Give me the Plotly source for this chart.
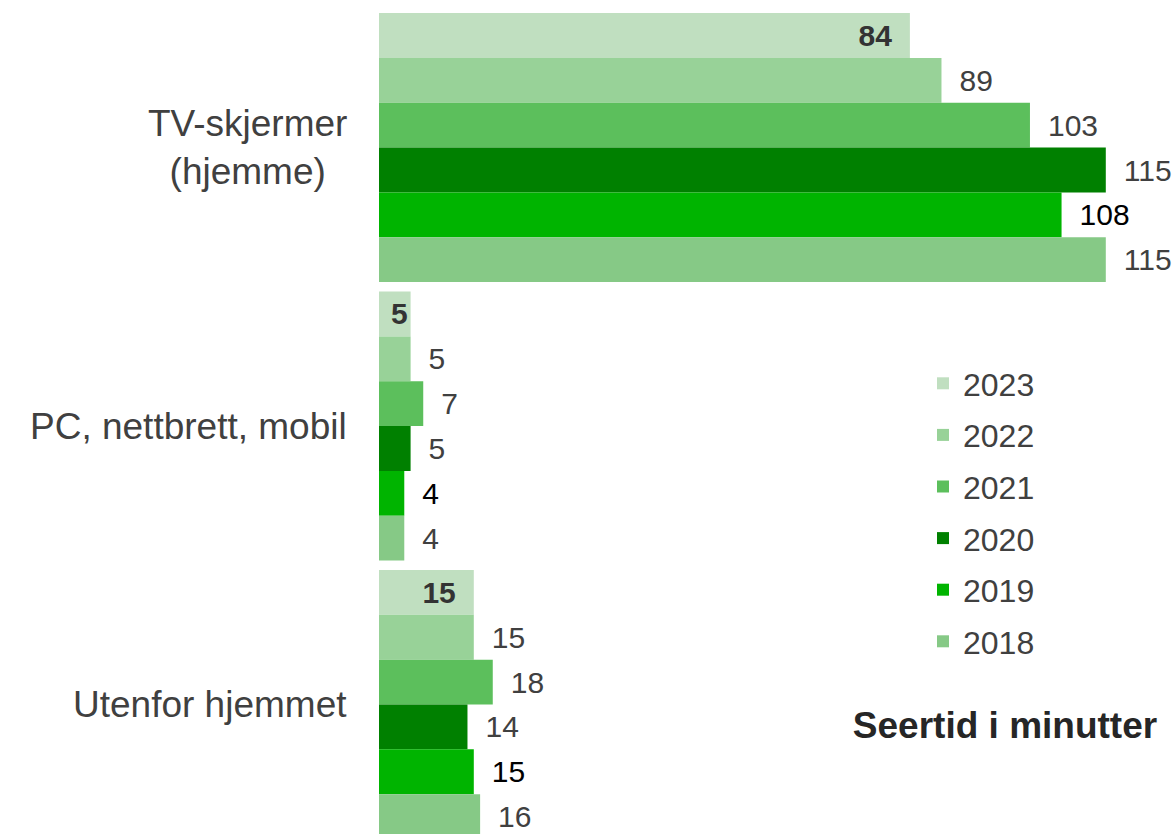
import plotly.graph_objects as go

categories = ["TV-skjermer<br>(hjemme)", "PC, nettbrett, mobil", "Utenfor hjemmet"]
years = ["2023", "2022", "2021", "2020", "2019", "2018"]
values_2023 = [84, 5, 15]
values_2022 = [89, 5, 15]
values_2021 = [103, 7, 18]
values_2020 = [115, 5, 14]
values_2019 = [108, 4, 15]
values_2018 = [115, 4, 16]
series = [values_2023, values_2022, values_2021, values_2020, values_2019, values_2018]
colors = ["#C0DFC0", "#98D298", "#5CBF5C", "#008000", "#00B400", "#86C986"]
label_colors = ["#333333", "#404040", "#404040", "#404040", "#000000", "#404040"]

FONT = "Liberation Sans, Arial, sans-serif"
W, H = 1173, 834
L = 379
plot_w = W - L
px_per_unit = 6.32

fig = go.Figure()
ypos = list(range(len(categories)))
for i, (yr, vals) in enumerate(zip(years, series)):
    if i == 0:
        texts = [f"{v}\u2002" if v * px_per_unit > 50 else f"{v}" for v in vals]
        fig.add_trace(go.Bar(
            y=ypos, x=vals, orientation="h", name=yr,
            marker=dict(color=colors[i], line=dict(width=0)),
            text=texts, textposition="inside", insidetextanchor="end",
            constraintext="none",
            textfont=dict(family=FONT, size=30, color=label_colors[i], weight="bold"),
            legendgroup=yr, hoverinfo="skip",
        ))
    else:
        texts = [f"\u2002{v}" for v in vals]
        fig.add_trace(go.Bar(
            y=ypos, x=vals, orientation="h", name=yr,
            marker=dict(color=colors[i], line=dict(width=0)),
            text=texts, textposition="outside", constraintext="none",
            textfont=dict(family=FONT, size=30, color=label_colors[i]),
            cliponaxis=False, legendgroup=yr, hoverinfo="skip",
        ))

for j, cat in enumerate(categories):
    fig.add_annotation(
        x=(349 - L) / plot_w, xref="paper", xanchor="right",
        y=j, yref="y", yanchor="middle",
        text=cat, align="center", showarrow=False,
        font=dict(family=FONT, size=37, color="#404040"),
    )

fig.update_layout(
    width=W, height=H,
    margin=dict(l=L, r=0, t=0, b=0, autoexpand=False),
    paper_bgcolor="white", plot_bgcolor="white",
    barmode="group", bargap=0.034, bargroupgap=0,
    font=dict(family=FONT, color="#404040"),
    xaxis=dict(range=[0, plot_w / px_per_unit], visible=False, showgrid=False, zeroline=False),
    yaxis=dict(range=[2.465, -0.53], showticklabels=False, showgrid=False,
               zeroline=False, showline=False, ticks=""),
    legend=dict(
        x=(923 - L) / plot_w, xref="paper", xanchor="left",
        y=1 - 356 / H, yref="paper", yanchor="top",
        font=dict(family=FONT, size=32, color="#404040"),
        tracegroupgap=7, bgcolor="rgba(0,0,0,0)",
        traceorder="grouped",
    ),
    title=dict(
        text="<b>Seertid i minutter</b>",
        x=1005 / W, xref="container", xanchor="center",
        y=1 - 725 / H, yref="container", yanchor="middle",
        font=dict(family=FONT, size=37, color="#262626"),
    ),
    showlegend=True,
)

fig.write_html(
    "out.html",
    config={"displayModeBar": False},
    post_script="document.body.style.margin='0';document.body.style.overflow='hidden';",
)
